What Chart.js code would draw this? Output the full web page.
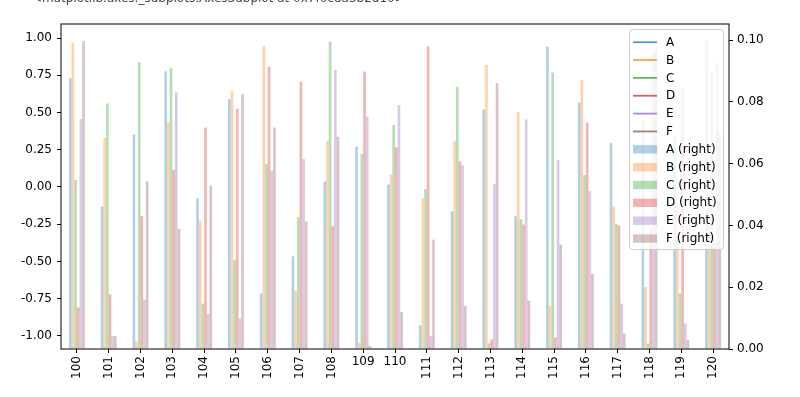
<!DOCTYPE html>
<html>
<head>
<meta charset="utf-8">
<script src="https://cdn.jsdelivr.net/npm/chart.js@4.4.0/dist/chart.umd.min.js"></script>
<style>
  html, body { margin: 0; padding: 0; background: #fff; }
</style>
</head>
<body>
<canvas id="grafico" width="800" height="397"></canvas>
<script>
// Categorías del eje x (las dos planas se dibujan horizontales)
const categories = ['100', '101', '102', '103', '104', '105', '106', '107', '108', '109', '110',
                    '111', '112', '113', '114', '115', '116', '117', '118', '119', '120'];
const flatLabels = ['109', '110'];

const seriesNames = ['A', 'B', 'C', 'D', 'E', 'F'];

// Barras en el eje derecho
const rightA = [0.0876, 0.0461, 0.0694, 0.0899, 0.0488, 0.0809, 0.0180, 0.0300, 0.0542, 0.0655, 0.0532,
                0.0077, 0.0446, 0.0776, 0.0430, 0.0978, 0.0798, 0.0667, 0.0741, 0.0692, 0.0997];
const rightB = [0.0991, 0.0683, 0.0024, 0.0733, 0.0416, 0.0835, 0.0980, 0.0188, 0.0674, 0.0020, 0.0565,
                0.0488, 0.0674, 0.0919, 0.0766, 0.0139, 0.0870, 0.0461, 0.0201, 0.0466, 0.0505];
const rightC = [0.0547, 0.0795, 0.0929, 0.0910, 0.0147, 0.0289, 0.0599, 0.0427, 0.0995, 0.0631, 0.0725,
                0.0518, 0.0848, 0.0018, 0.0420, 0.0895, 0.0563, 0.0405, 0.0018, 0.0180, 0.0895];
const rightD = [0.0134, 0.0177, 0.0430, 0.0580, 0.0717, 0.0778, 0.0914, 0.0865, 0.0397, 0.0898, 0.0653,
                0.0980, 0.0608, 0.0031, 0.0403, 0.0038, 0.0733, 0.0400, 0.0389, 0.0846, 0.0343];
const rightE = [0.0744, 0.0042, 0.0160, 0.0830, 0.0115, 0.0099, 0.0577, 0.0615, 0.0903, 0.0752, 0.0790,
                0.0042, 0.0594, 0.0534, 0.0743, 0.0612, 0.0511, 0.0147, 0.0960, 0.0083, 0.0925];
const rightF = [0.0997, 0.0042, 0.0543, 0.0389, 0.0529, 0.0825, 0.0717, 0.0413, 0.0687, 0.0010, 0.0120,
                0.0354, 0.0139, 0.0860, 0.0156, 0.0338, 0.0244, 0.0050, 0.0975, 0.0029, 0.0698];
const rightSeries = [rightA, rightB, rightC, rightD, rightE, rightF];

// Marcas de los ejes
const leftTicks = [-1, -0.75, -0.5, -0.25, 0, 0.25, 0.5, 0.75, 1];
const leftTickLabels = ['-1.00', '-0.75', '-0.50', '-0.25', '0.00', '0.25', '0.50', '0.75', '1.00'];
const rightTicks = [0, 0.02, 0.04, 0.06, 0.08, 0.10];
const rightTickLabels = ['0.00', '0.02', '0.04', '0.06', '0.08', '0.10'];

const outputLine = '<matplotlib.axes._subplots.AxesSubplot at 0x7f0c8a3b2d10>';

var rgb = [[31, 119, 180], [255, 127, 14], [44, 160, 44], [214, 39, 40], [148, 103, 189], [140, 86, 75]];
function rgba(c, a) { return 'rgba(' + c[0] + ',' + c[1] + ',' + c[2] + ',' + a + ')'; }

var fuente = { family: 'DejaVu Sans', size: 12 };

// Bordes, etiquetas del eje x, leyenda y texto superior
var extras = {
    id: 'extras',
    afterDraw: function (chart) {
        var ctx = chart.ctx;
        var a = chart.chartArea;
        ctx.save();

        // línea de salida cortada por arriba
        ctx.fillStyle = '#444';
        ctx.font = '12px "DejaVu Sans"';
        ctx.textAlign = 'left';
        ctx.textBaseline = 'alphabetic';
        ctx.fillText(outputLine, 32, 2);

        ctx.strokeStyle = '#000';
        ctx.lineWidth = 1;
        ctx.strokeRect(a.left, a.top, a.right - a.left, a.bottom - a.top);

        var xs = chart.scales.x;
        ctx.fillStyle = '#000';
        ctx.font = '12px "DejaVu Sans"';
        categories.forEach(function (lab, i) {
            var x = xs.getPixelForValue(i);
            if (flatLabels.indexOf(lab) >= 0) {
                ctx.textAlign = 'center';
                ctx.textBaseline = 'top';
                ctx.fillText(lab, x, a.bottom + 7);
            } else {
                ctx.save();
                ctx.translate(x, a.bottom + 7);
                ctx.rotate(-Math.PI / 2);
                ctx.textAlign = 'right';
                ctx.textBaseline = 'middle';
                ctx.fillText(lab, 0, 0);
                ctx.restore();
            }
        });

        // leyenda
        var lx = 629, ly = 29, lw = 94, lh = 220;
        ctx.beginPath();
        ctx.roundRect(lx + 0.5, ly + 0.5, lw, lh, 3);
        ctx.fillStyle = 'rgba(255,255,255,0.8)';
        ctx.fill();
        ctx.strokeStyle = '#cccccc';
        ctx.stroke();

        var entradas = [];
        seriesNames.forEach(function (n, i) { entradas.push({ text: n, color: i, line: true }); });
        seriesNames.forEach(function (n, i) { entradas.push({ text: n + ' (right)', color: i, line: false }); });
        ctx.textAlign = 'left';
        ctx.textBaseline = 'middle';
        entradas.forEach(function (e, i) {
            var y = 42.2 + i * 17.85;
            if (e.line) {
                ctx.strokeStyle = rgba(rgb[e.color], 0.75);
                ctx.lineWidth = 1.8;
                ctx.beginPath();
                ctx.moveTo(633, y);
                ctx.lineTo(657, y);
                ctx.stroke();
            } else {
                ctx.fillStyle = rgba(rgb[e.color], 0.35);
                ctx.fillRect(633, y - 4.2, 24, 8.4);
            }
            ctx.fillStyle = '#000';
            ctx.fillText(e.text, 666, y + 0.5);
        });
        ctx.restore();
    }
};

new Chart(document.getElementById('grafico').getContext('2d'), {
    type: 'bar',
    data: {
        labels: categories,
        datasets: seriesNames.map(function (n, i) {
            return {
                label: n + ' (right)',
                data: rightSeries[i],
                yAxisID: 'y1',
                backgroundColor: rgba(rgb[i], 0.35),
                borderWidth: 0,
                categoryPercentage: 0.5,
                barPercentage: 1.0
            };
        })
    },
    options: {
        responsive: false,
        animation: false,
        devicePixelRatio: 1,
        layout: { padding: { top: 24, left: 0, right: 0, bottom: 0 } },
        plugins: { legend: { display: false }, tooltip: { enabled: false } },
        scales: {
            x: {
                offset: true,
                grid: { display: true, drawOnChartArea: false, drawTicks: true, tickLength: 4, color: '#000', offset: false },
                border: { display: false },
                ticks: { display: false },
                afterFit: function (s) { s.height = 48; }
            },
            y: {
                type: 'linear',
                position: 'left',
                min: -1.088,
                max: 1.094,
                grid: { drawOnChartArea: false, tickLength: 4, color: '#000' },
                border: { display: false },
                ticks: {
                    font: fuente, color: '#000', padding: 5, autoSkip: false,
                    callback: function (v) { return leftTickLabels[leftTicks.indexOf(v)]; }
                },
                afterBuildTicks: function (s) { s.ticks = leftTicks.map(function (v) { return { value: v }; }); },
                afterFit: function (s) { s.width = 61; }
            },
            y1: {
                type: 'linear',
                position: 'right',
                min: 0,
                max: 0.1052,
                grid: { drawOnChartArea: false, tickLength: 4, color: '#000' },
                border: { display: false },
                ticks: {
                    font: fuente, color: '#000', padding: 4, autoSkip: false,
                    callback: function (v) { return rightTickLabels[rightTicks.indexOf(v)]; }
                },
                afterBuildTicks: function (s) { s.ticks = rightTicks.map(function (v) { return { value: v }; }); },
                afterFit: function (s) { s.width = 71; }
            }
        }
    },
    plugins: [extras]
});
</script>
</body>
</html>
